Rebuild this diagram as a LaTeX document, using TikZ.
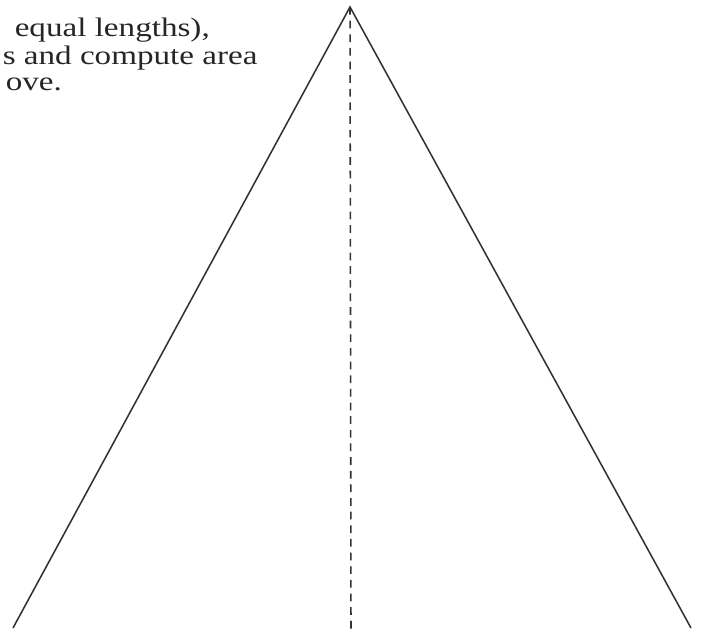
\documentclass[tikz,border=0pt]{standalone}
\usepackage{fontspec}
\setmainfont{Liberation Serif}[FakeStretch=1.24]
\begin{document}
\begin{tikzpicture}[
    x=0.025cm, y=-0.025cm,
    line width=1.1pt,
    side/.style={draw=black!80},
    altitude/.style={draw=black!80, dash pattern=on 5.5pt off 4.2pt},
    txt/.style={anchor=base west, inner sep=0pt, font=\fontsize{19}{20}\selectfont, text=black!85}
]
  \useasboundingbox (0,0) rectangle (702,629);
  %--- exact positions ---
  \coordinate (A) at (350,7);
  \coordinate (L) at (13,628);
  \coordinate (R) at (691,628);
  \coordinate (F) at (351,631);
  %--- text (cut off at the left) ---
  \node[txt] (t1) at (14,37) {equal lengths),};
  \node[txt] (t2) at (2,65) {s and compute area};
  \node[txt] (t3) at (5,91) {ove.};
  %--- triangle and altitude ---
  \draw[side] (L) -- (A) -- (R);
  \draw[altitude] (A) -- (F);
\end{tikzpicture}
\end{document}
